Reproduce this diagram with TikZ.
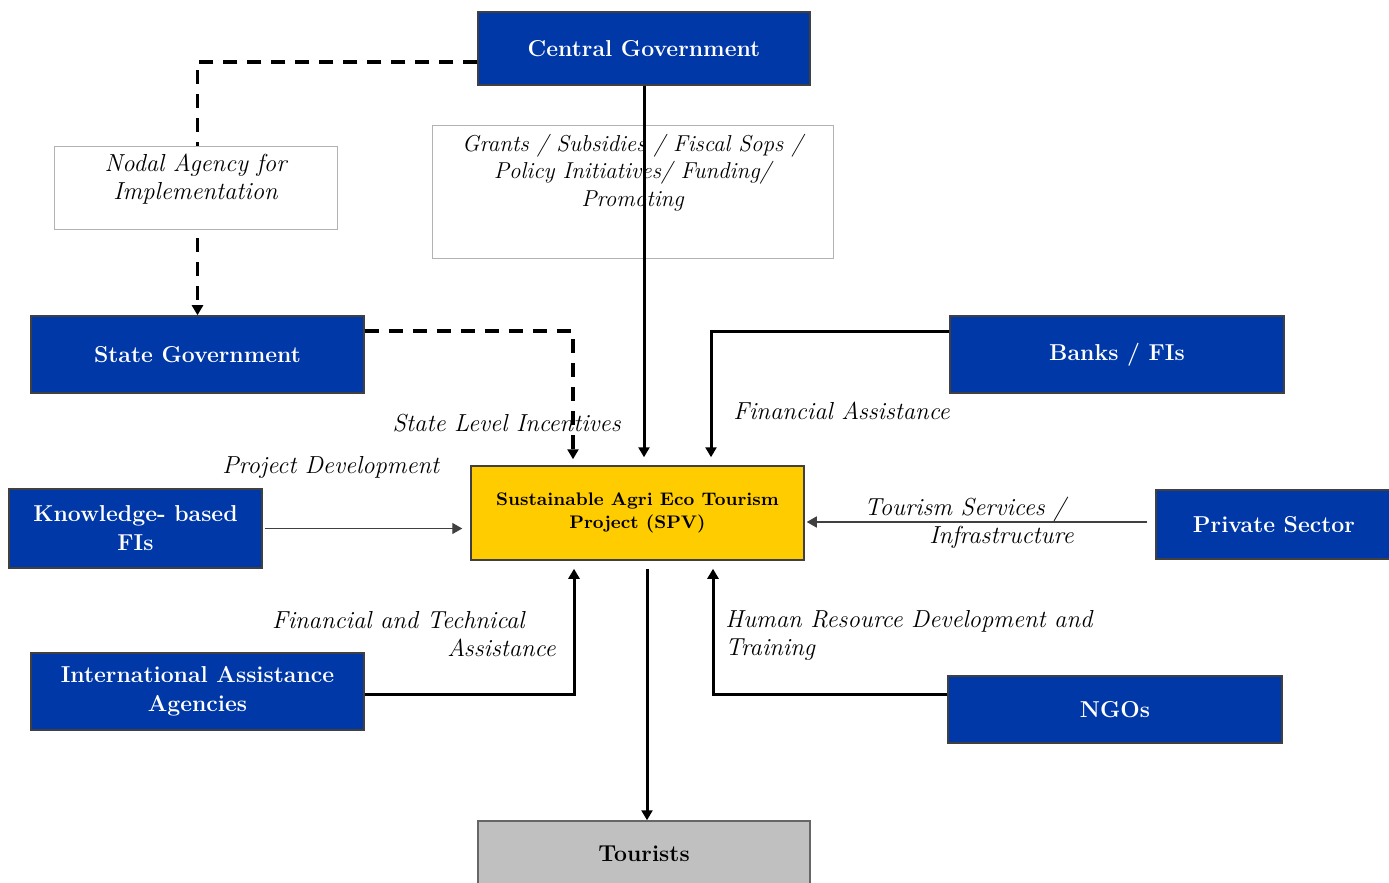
\documentclass[tikz,border=0pt]{standalone}
\usetikzlibrary{arrows.meta,calc}
\definecolor{boxblue}{RGB}{0,56,168}
\definecolor{spvyellow}{RGB}{255,204,0}
\definecolor{tgray}{RGB}{192,192,192}
\tikzset{
  bluebox/.style={draw=black!75,line width=0.75pt,fill=boxblue,text=white,font=\bfseries\fontsize{11.5}{14.5}\selectfont,align=center,inner sep=0pt},
  whitebox/.style={draw=black!30,line width=0.5pt,fill=white,inner sep=0pt},
  lbl/.style={font=\itshape\fontsize{12.3}{14}\selectfont,inner sep=0pt},
  tip/.style={-{Triangle[width=5.5pt,length=5pt]}},
  thickline/.style={line width=1.5pt,tip},
  thinline/.style={line width=0.7pt,black!75,tip},
  dashline/.style={line width=1.6pt,dash pattern=on 7pt off 5pt,tip},
}
\begin{document}
\begin{tikzpicture}[x=0.5pt,y=-0.5pt]
\clip (0,0) rectangle (1389,883);
\fill[white] (0,0) rectangle (1389,883);
% boxes
\node[whitebox,minimum width=200.5pt,minimum height=66.5pt] (grants) at (632.5,192.5) {};
\node[bluebox,minimum width=166pt,minimum height=36.5pt] (cg) at (644,48.5) {Central Government};
\node[bluebox,minimum width=166.5pt,minimum height=38.5pt] (sg) at (197.5,354.5) {State Government};
\node[bluebox,minimum width=167pt,minimum height=38.5pt] (bk) at (1117,354.5) {Banks / FIs};
\node[bluebox,minimum width=126.5pt,minimum height=39.5pt] (kb) at (135.5,528.5) {Knowledge- based\\FIs};
\node[draw=black!75,line width=0.75pt,fill=spvyellow,minimum width=166.5pt,minimum height=47pt,align=center,font=\bfseries\fontsize{9.1}{11.5}\selectfont,inner sep=0pt] (spv) at (637.5,513) {Sustainable Agri Eco Tourism\\Project (SPV)};
\node[bluebox,minimum width=118pt,minimum height=34.5pt] (pv) at (1274,524.5) {Private Sector};
\node[bluebox,minimum width=166.5pt,minimum height=38.5pt] (ia) at (197.5,691.5) {International Assistance\\Agencies};
\node[bluebox,minimum width=167pt,minimum height=33.5pt] (ng) at (1115,709.5) {NGOs};
\node[draw=black!60,line width=0.75pt,fill=tgray,minimum width=166pt,minimum height=33pt,font=\bfseries\fontsize{11.5}{14}\selectfont,inner sep=0pt] (tr) at (644,854) {Tourists};
% connectors
\draw[dashline] ([yshift=-6.75pt]cg.west) -| (sg.north);
\node[whitebox,minimum width=141.5pt,minimum height=41.5pt] (nodal) at (195.5,188.5) {};
\node[lbl,align=center] (nodaltxt) at (195.5,179) {Nodal Agency for\\Implementation};
\node[align=center,font=\itshape\fontsize{11.5}{13.75}\selectfont,inner sep=0pt] (grantstxt) at (632.5,172.5) {Grants / Subsidies / Fiscal Sops /\\Policy Initiatives/ Funding/\\Promoting};
\draw[dashline,shorten >=3pt] ([yshift=11.75pt]sg.east) -| ([xshift=-32.25pt]spv.north);
\draw[thickline,shorten >=4pt] (cg.south) -- (cg.south |- spv.north);
\draw[thickline,shorten >=4pt] ([yshift=11.75pt]bk.west) -| ([xshift=36.75pt]spv.north);
\draw[thinline,shorten <=1pt,shorten >=4pt] (kb.east) -- (kb.east -| spv.west);
\draw[thinline,shorten <=4pt,shorten >=1pt] ([yshift=1.25pt]pv.west) -- ([yshift=1.25pt]pv.west -| spv.east);
\draw[thickline,shorten >=4pt] ([yshift=-1.25pt]ia.east) -| ([xshift=-31.75pt]spv.south);
\draw[thickline,shorten >=4pt] ([yshift=7.75pt]ng.west) -| ([xshift=37.75pt]spv.south);
\draw[thickline,shorten <=4pt] ([xshift=4.75pt]spv.south) -- ([xshift=4.75pt]spv.south |- tr.north);
% labels
\node[lbl,anchor=east] (l1) at (621,423) {State Level Incentives};
\node[lbl,anchor=west] (l2) at (222,467) {Project Development};
\node[lbl,anchor=west] (l3) at (733,411) {Financial Assistance};
\node[lbl,align=right,anchor=east] (l4) at (1074,523) {Tourism Services /\hspace*{4pt}\\Infrastructure};
\node[lbl,align=right,anchor=east] (l5) at (556,634) {Financial and Technical\hspace*{15.5pt}\\Assistance};
\node[lbl,align=left,anchor=west] (l6) at (725,635) {Human Resource Development and\\Training};
\end{tikzpicture}
\end{document}
